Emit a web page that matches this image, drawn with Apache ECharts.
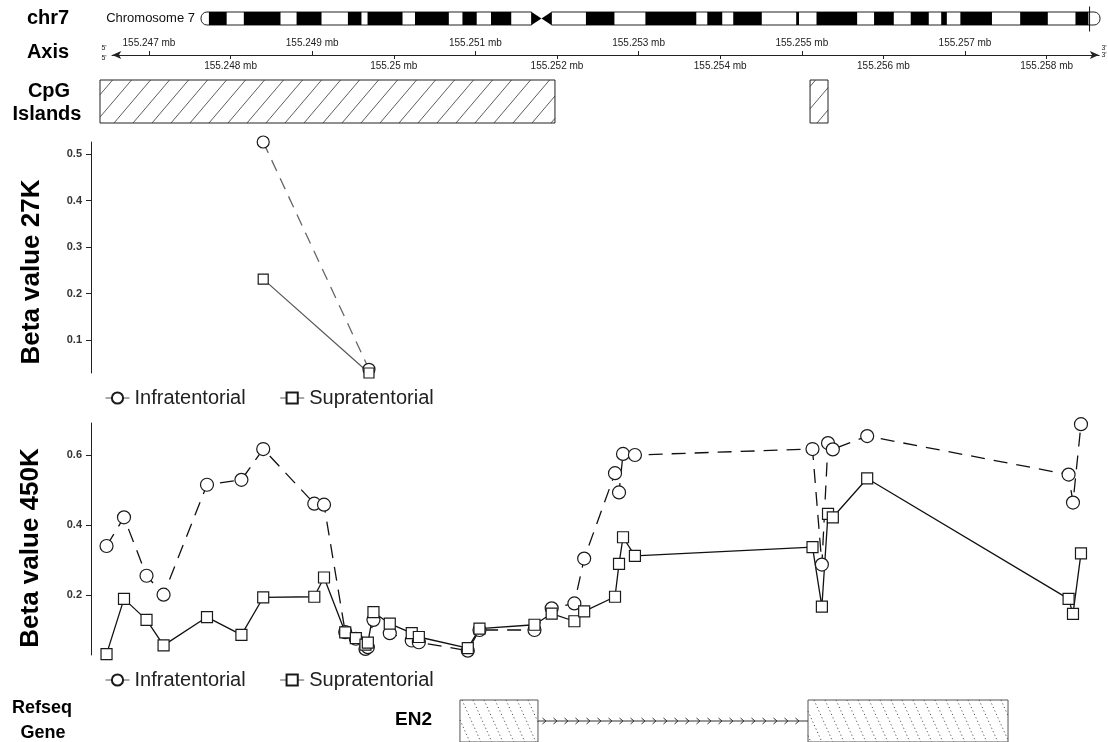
<!DOCTYPE html>
<html>
<head>
<meta charset="utf-8">
<script src="https://cdn.jsdelivr.net/npm/echarts@6/dist/echarts.min.js"></script>
<style>
html,body{margin:0;padding:0;background:#fff;}
#chart{width:1108px;height:742px;}
</style>
</head>
<body>
<div id="chart"></div>
<script>
// ---- Genomic window shown by every data track (bp on chr7) ----
const regionStart = 155246400;
const regionEnd = 155258654;

// ---- Genome axis track ----
const axisStart = 155246550;
const axisEnd = 155258640;
const axisTicksTop = [155247000, 155249000, 155251000, 155253000, 155255000, 155257000];
const axisTicksBottom = [155248000, 155250000, 155252000, 155254000, 155256000, 155258000];

// ---- Chromosome 7 ideogram (Mb) ----
const chrLength = 159.35;
const bandStarts = [1.40, 7.59, 16.94, 26.04, 29.52, 37.93, 46.34, 51.40, 68.23, 78.77, 89.74, 94.34, 105.5, 109.1, 119.3, 125.8, 131.2, 134.6, 145.2, 155.0];
const bandEnds   = [4.55, 14.09, 21.36, 28.44, 35.72, 43.93, 48.87, 54.99, 73.28, 87.79, 92.39, 99.40, 106.0, 116.3, 122.8, 129.0, 132.2, 140.2, 150.1, 157.3];
const centromere = [58.6, 60.35, 62.1];
const regionMarker = 157.5;

// ---- CpG islands ----
const cpgStarts = [155246400, 155255101];
const cpgEnds   = [155251975, 155255321];

// ---- Beta values, 27K array ----
const probes27k = [155248400, 155249696];
const infra27k  = [0.526, 0.037];
const supra27k  = [0.231, 0.029];
const yTicks27k = [0.1, 0.2, 0.3, 0.4, 0.5];

// ---- Beta values, 450K array ----
const probes450k = [
  155246480, 155246694, 155246970, 155247179, 155247711, 155248133, 155248400,
  155249026, 155249145, 155249405, 155249535, 155249653, 155249682, 155249751,
  155249951, 155250220, 155250307, 155250907, 155251050, 155251724, 155251935,
  155252213, 155252333, 155252711, 155252760, 155252809, 155252955, 155255131,
  155255246, 155255321, 155255380, 155255801, 155258269, 155258323, 155258421
];
const infra450k = [
  0.340, 0.422, 0.255, 0.201, 0.515, 0.529, 0.617,
  0.461, 0.458, 0.094, 0.075, 0.046, 0.051, 0.129,
  0.091, 0.070, 0.065, 0.041, 0.100, 0.100, 0.162,
  0.176, 0.304, 0.548, 0.493, 0.603, 0.600, 0.617,
  0.287, 0.634, 0.616, 0.654, 0.544, 0.464, 0.688
];
const supra450k = [
  0.031, 0.189, 0.129, 0.056, 0.137, 0.086, 0.193,
  0.195, 0.250, 0.093, 0.077, 0.058, 0.064, 0.151,
  0.118, 0.091, 0.080, 0.048, 0.104, 0.115, 0.147,
  0.125, 0.153, 0.195, 0.289, 0.365, 0.312, 0.337,
  0.167, 0.432, 0.422, 0.533, 0.189, 0.146, 0.319
];
const yTicks450k = [0.2, 0.4, 0.6];

// ---- RefSeq gene ----
const geneName = 'EN2';
const exonStarts = [155250811, 155255076];
const exonEnds   = [155251767, 155257527];

const FONT = '"Liberation Sans", Arial, Helvetica, sans-serif';
const plotLeft = 100, plotWidth = 1000, pageWidth = 1108;

// place the axis track so its ends sit at axisStart/axisEnd on the shared scale
const pxPerBp = plotWidth / (regionEnd - regionStart);
const axisLeft = plotLeft + (axisStart - regionStart) * pxPerBp;
const axisRight = pageWidth - (plotLeft + (axisEnd - regionStart) * pxPerBp);

function mbLabel(v) { return (+(v / 1e6).toFixed(3)) + ' mb'; }

// diagonal hatching clipped to a box; dir 1 = "/", dir -1 = "\"
function hatch(left, top, right, bottom, spacing, run, dir, style) {
  const h = bottom - top, out = [];
  const first = Math.floor((left - run) / spacing) * spacing;
  for (let x0 = first; x0 < right; x0 += spacing) {
    const t0 = Math.max(0, (left - x0) / run);
    const t1 = Math.min(1, (right - x0) / run);
    if (t1 <= t0) continue;
    const yA = dir > 0 ? bottom - h * t0 : top + h * t0;
    const yB = dir > 0 ? bottom - h * t1 : top + h * t1;
    out.push({ type: 'line', shape: { x1: x0 + run * t0, y1: yA, x2: x0 + run * t1, y2: yB }, style: style });
  }
  return out;
}

// ideogram items: [start, end, kind, mid]; kind 0 p-arm, 1 q-arm, 2 dark band, 3 centromere
const ideogramData = [
  [0, centromere[0], 0, 0],
  [centromere[2], chrLength, 1, 0]
].concat(bandStarts.map((s, i) => [s, bandEnds[i], 2, 0]))
 .concat([[centromere[0], centromere[2], 3, centromere[1]]]);

function renderIdeogram(params, api) {
  const s = api.value(0), e = api.value(1), k = api.value(2);
  const a = api.coord([s, 1]), b = api.coord([e, 0]);
  const x0 = a[0], y0 = a[1], x1 = b[0], y1 = b[1];
  if (k === 0 || k === 1) {
    return { type: 'rect', shape: { x: x0, y: y0, width: x1 - x0, height: y1 - y0, r: k === 0 ? [6, 0, 0, 6] : [0, 6, 6, 0] },
      style: { fill: '#fff', stroke: '#222', lineWidth: 1 } };
  }
  if (k === 2) {
    return { type: 'rect', shape: { x: x0, y: y0, width: x1 - x0, height: y1 - y0 }, style: { fill: '#000' } };
  }
  const m = api.coord([api.value(3), 0.5]);
  return { type: 'group', children: [
    { type: 'polygon', shape: { points: [[x0, y0], [m[0], m[1]], [x0, y1]] }, style: { fill: '#000' } },
    { type: 'polygon', shape: { points: [[x1, y0], [m[0], m[1]], [x1, y1]] }, style: { fill: '#000' } }
  ] };
}

function renderMarker(params, api) {
  const p = api.coord([api.value(0), 0.5]);
  return { type: 'line', shape: { x1: p[0], y1: p[1] - 12, x2: p[0], y2: p[1] + 13 }, style: { stroke: '#111', lineWidth: 1 } };
}

function renderCpg(params, api) {
  const a = api.coord([api.value(0), 1]), b = api.coord([api.value(1), 0]);
  const left = a[0], top = a[1], right = b[0], bottom = b[1];
  const lines = hatch(left, top, right, bottom, 19, (bottom - top) * 0.85, 1, { stroke: '#333', lineWidth: 0.8 });
  return { type: 'group', children: [
    { type: 'rect', shape: { x: left, y: top, width: right - left, height: bottom - top }, style: { fill: '#fff', stroke: '#222', lineWidth: 1 } }
  ].concat(lines) };
}

// gene items: [start, end, kind]; kind 0 exon, 1 intron, 2 name label
const geneData = exonStarts.map((s, i) => [s, exonEnds[i], 0])
  .concat([[exonEnds[0], exonStarts[1], 1], [exonStarts[0], exonStarts[0], 2]]);

function renderGene(params, api) {
  const k = api.value(2);
  const a = api.coord([api.value(0), 1]), b = api.coord([api.value(1), 0]);
  const left = a[0], top = a[1], right = b[0], bottom = b[1], mid = (top + bottom) / 2;
  if (k === 0) {
    const lines = hatch(left, top, right, bottom, 11, (bottom - top) * 0.45, -1, { stroke: '#555', lineWidth: 1, lineDash: [1.2, 2.6] });
    return { type: 'group', children: [
      { type: 'rect', shape: { x: left, y: top, width: right - left, height: bottom - top }, style: { fill: '#fff', stroke: '#555', lineWidth: 1 } }
    ].concat(lines) };
  }
  if (k === 1) {
    const ch = [{ type: 'line', shape: { x1: left, y1: mid, x2: right, y2: mid }, style: { stroke: '#333', lineWidth: 1 } }];
    for (let x = left + 7; x < right - 3; x += 11) {
      ch.push({ type: 'polyline', shape: { points: [[x - 2.5, mid - 3], [x + 1, mid], [x - 2.5, mid + 3]] }, style: { stroke: '#333', lineWidth: 1, fill: null } });
    }
    return { type: 'group', children: ch };
  }
  return { type: 'text', x: left - 28, y: mid - 1, style: { text: geneName, font: 'bold 19px ' + FONT, fill: '#000', align: 'right', verticalAlign: 'middle' } };
}

const hiddenX = (grid) => ({ type: 'value', gridIndex: grid, min: regionStart, max: regionEnd, show: false });
const hiddenY = (grid) => ({ type: 'value', gridIndex: grid, min: 0, max: 1, show: false });

function betaAxis(grid, min, max, ticks) {
  return {
    type: 'value', gridIndex: grid, min: min, max: max, offset: 9,
    axisLine: { show: true, onZero: false, lineStyle: { color: '#222', width: 1 } },
    axisTick: { show: true, customValues: ticks, length: 5, lineStyle: { color: '#222' } },
    axisLabel: { customValues: ticks, margin: 9, fontSize: 11, fontWeight: 'bold', color: '#333', fontFamily: FONT },
    splitLine: { show: false }
  };
}

const infraStyle = {
  symbol: 'circle', itemStyle: { color: '#fff', borderColor: '#1a1a1a', borderWidth: 1.2 }
};
const supraStyle = {
  symbol: 'rect', itemStyle: { color: '#fff', borderColor: '#1a1a1a', borderWidth: 1.2 }
};

const legendItems = [
  { name: 'Infratentorial', lineStyle: { color: '#555', type: 'solid', width: 1 } },
  { name: 'Supratentorial', lineStyle: { color: '#555', type: 'solid', width: 1 } }
];
function legendAt(top) {
  return {
    left: 100, top: top, itemWidth: 24, itemHeight: 14, itemGap: 34, selectedMode: false,
    textStyle: { fontSize: 20, color: '#222', fontFamily: FONT },
    data: legendItems
  };
}

function label(text, x, y, size, extra) {
  return Object.assign({ type: 'text', x: x, y: y,
    style: { text: text, font: 'bold ' + size + 'px ' + FONT, fill: '#000', align: 'center', verticalAlign: 'middle' } }, extra || {});
}

const option = {
  animation: false,
  backgroundColor: '#fff',
  grid: [
    { left: 201, right: 8, top: 12, height: 13 },
    { left: axisLeft, right: axisRight, top: 52, height: 3 },
    { left: plotLeft, right: 8, top: 80, height: 43 },
    { left: plotLeft, right: 8, top: 142, height: 231 },
    { left: plotLeft, right: 8, top: 423, height: 232 },
    { left: plotLeft, right: 8, top: 700, height: 44 }
  ],
  xAxis: [
    { type: 'value', gridIndex: 0, min: 0, max: chrLength, show: false },
    {
      type: 'value', gridIndex: 1, position: 'top', min: axisStart, max: axisEnd,
      axisLine: { show: true, symbol: ['none', 'arrow'], symbolSize: [6, 9], lineStyle: { color: '#222', width: 1.2 } },
      axisTick: { show: true, customValues: axisTicksTop, length: 4, lineStyle: { color: '#222' } },
      axisLabel: { customValues: axisTicksTop, formatter: mbLabel, margin: 4, fontSize: 10, color: '#222', fontFamily: FONT },
      splitLine: { show: false }
    },
    {
      type: 'value', gridIndex: 1, position: 'bottom', min: axisStart, max: axisEnd,
      axisLine: { show: true, onZero: false, symbol: ['arrow', 'none'], symbolSize: [6, 9], lineStyle: { color: '#222', width: 1.2 } },
      axisTick: { show: true, customValues: axisTicksBottom, length: 4, lineStyle: { color: '#222' } },
      axisLabel: { customValues: axisTicksBottom, formatter: mbLabel, margin: 6, fontSize: 10, color: '#222', fontFamily: FONT },
      splitLine: { show: false }
    },
    hiddenX(2), hiddenX(3), hiddenX(4), hiddenX(5)
  ],
  yAxis: [
    hiddenY(0), hiddenY(1), hiddenY(2),
    betaAxis(3, 0.029, 0.526, yTicks27k),
    betaAxis(4, 0.0286, 0.6914, yTicks450k),
    hiddenY(5)
  ],
  legend: [legendAt(383), legendAt(665)],
  series: [
    { type: 'custom', name: 'ideogram', xAxisIndex: 0, yAxisIndex: 0, clip: false, encode: { x: [0, 1] },
      renderItem: renderIdeogram, data: ideogramData, silent: true },
    { type: 'custom', name: 'marker', xAxisIndex: 0, yAxisIndex: 0, clip: false, encode: { x: 0 },
      renderItem: renderMarker, data: [[regionMarker]], silent: true, z: 3 },
    { type: 'custom', name: 'cpg', xAxisIndex: 3, yAxisIndex: 2, clip: false, encode: { x: [0, 1] },
      renderItem: renderCpg, data: cpgStarts.map((s, i) => [s, cpgEnds[i]]), silent: true },
    Object.assign({
      type: 'line', name: 'Infratentorial', xAxisIndex: 4, yAxisIndex: 3, symbolSize: 12,
      lineStyle: { color: '#666', width: 1.3, type: [12, 8] },
      data: probes27k.map((p, i) => [p, infra27k[i]]), silent: true
    }, infraStyle),
    Object.assign({
      type: 'line', name: 'Supratentorial', xAxisIndex: 4, yAxisIndex: 3, symbolSize: 10,
      lineStyle: { color: '#555', width: 1.2 },
      data: probes27k.map((p, i) => [p, supra27k[i]]), silent: true
    }, supraStyle),
    Object.assign({
      type: 'line', name: 'Infratentorial', xAxisIndex: 5, yAxisIndex: 4, symbolSize: 13,
      lineStyle: { color: '#111', width: 1.3, type: [14, 9] },
      data: probes450k.map((p, i) => [p, infra450k[i]]), silent: true
    }, infraStyle),
    Object.assign({
      type: 'line', name: 'Supratentorial', xAxisIndex: 5, yAxisIndex: 4, symbolSize: 11,
      lineStyle: { color: '#111', width: 1.3 },
      data: probes450k.map((p, i) => [p, supra450k[i]]), silent: true
    }, supraStyle),
    { type: 'custom', name: 'gene', xAxisIndex: 6, yAxisIndex: 5, clip: false, encode: { x: [0, 1] },
      renderItem: renderGene, data: geneData, silent: true }
  ],
  graphic: [
    label('chr7', 48, 18, 20),
    label('Axis', 48, 52, 20),
    label('CpG', 49, 91, 20),
    label('Islands', 47, 114, 20),
    label('Refseq', 42, 708, 18),
    label('Gene', 43, 733, 18),
    label('Beta value 27K', 32, 272, 26, { rotation: Math.PI / 2 }),
    label('Beta value 450K', 31, 548, 26, { rotation: Math.PI / 2 }),
    { type: 'text', x: 195, y: 18, style: { text: 'Chromosome 7', font: '13px ' + FONT, fill: '#111', align: 'right', verticalAlign: 'middle' } },
    { type: 'text', x: 104, y: 48, style: { text: "5'", font: '7px ' + FONT, fill: '#222', align: 'center', verticalAlign: 'middle' } },
    { type: 'text', x: 104, y: 58, style: { text: "5'", font: '7px ' + FONT, fill: '#222', align: 'center', verticalAlign: 'middle' } },
    { type: 'text', x: 1104, y: 48, style: { text: "3'", font: '7px ' + FONT, fill: '#222', align: 'center', verticalAlign: 'middle' } },
    { type: 'text', x: 1104, y: 55, style: { text: "3'", font: '7px ' + FONT, fill: '#222', align: 'center', verticalAlign: 'middle' } }
  ]
};

const chart = echarts.init(document.getElementById('chart'), null, { renderer: 'canvas' });
chart.setOption(option);
</script>
</body>
</html>
